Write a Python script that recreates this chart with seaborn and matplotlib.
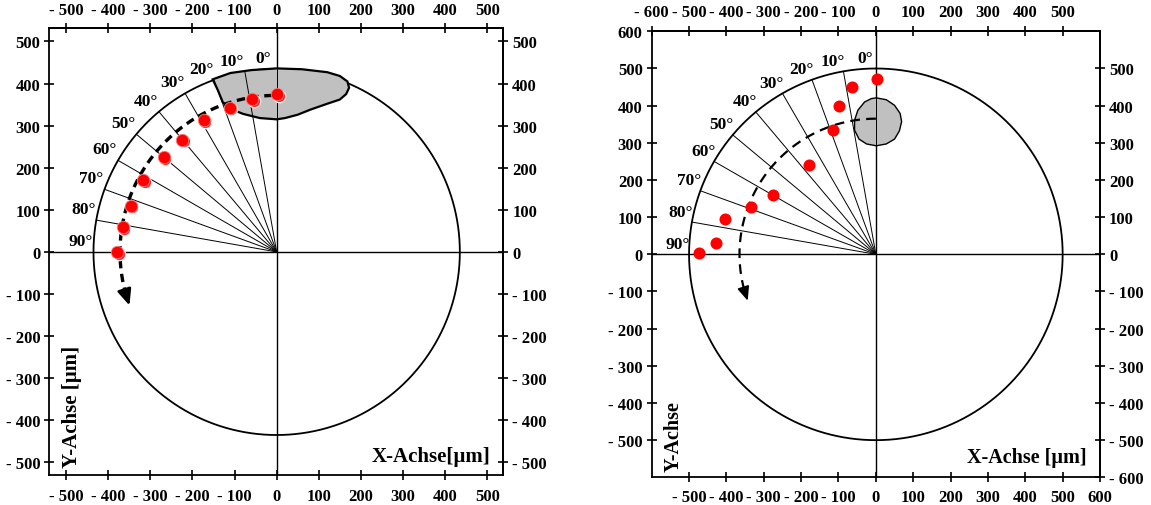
import numpy as np
import matplotlib
matplotlib.use("Agg")
import matplotlib.pyplot as plt
import matplotlib.transforms as mtransforms
from matplotlib.patches import Polygon
import seaborn as sns

# ---------------- data ----------------
angles_deg = [0, 10, 20, 30, 40, 50, 60, 70, 80, 90]
angle_labels = ["0°", "10°", "20°", "30°", "40°", "50°", "60°", "70°", "80°", "90°"]

# left chart
left_radius = 435
left_dots_x = [1, -58, -111, -173, -224, -268, -317, -347, -366, -379]
left_dots_y = [375, 363, 342, 313, 267, 225, 170, 110, 59, -1]
left_shape_x = [-152, -110, -60, 0, 60, 120, 150, 168, 172, 165, 150, 120, 80, 50, 20, 0,
                -40, -80, -110, -128, -140, -152]
left_shape_y = [410, 425, 432, 436, 434, 427, 418, 405, 390, 375, 362, 352, 338, 326, 318, 315,
                318, 328, 340, 356, 385, 410]
left_arc_radius = 372
left_arc_from, left_arc_to, left_arrow_tip = 1.5, 106, 110
left_xticks_bottom = [-500, -400, -300, -200, -100, 0, 100, 200, 300, 400, 500]
left_xticks_top = [-500, -400, -300, -200, -100, 0, 100, 200, 300, 400, 500]
left_yticks_left = [-500, -400, -300, -200, -100, 0, 100, 200, 300, 400, 500]
left_yticks_right = [-500, -400, -300, -200, -100, 0, 100, 200, 300, 400, 500]
left_xlim = (-540, 538)
left_ylim = (-530, 532)

# right chart
right_radius = 500
right_dots_x = [4, -63, -98, -114, -178, -276, -334, -404, -428, -474]
right_dots_y = [471, 450, 398, 334, 241, 159, 128, 96, 31, 3]
right_shape_x = [1, 28, 50, 65, 69, 63, 50, 28, 1, -25, -45, -57, -57, -48, -30, -12, 1]
right_shape_y = [421, 416, 401, 379, 357, 332, 310, 297, 292, 297, 310, 334, 361, 388, 410, 419, 421]
right_arc_radius = 365
right_arc_from, right_arc_to, right_arrow_tip = 0, 105, 110
right_xticks_bottom = [-500, -400, -300, -200, -100, 0, 100, 200, 300, 400, 500, 600]
right_xticks_top = [-600, -500, -400, -300, -200, -100, 0, 100, 200, 300, 400, 500]
right_yticks_left = [-500, -400, -300, -200, -100, 0, 100, 200, 300, 400, 500, 600]
right_yticks_right = [-600, -500, -400, -300, -200, -100, 0, 100, 200, 300, 400, 500]
right_xlim = (-600, 600)
right_ylim = (-600, 600)

# ---------------- style ----------------
sns.set_theme(style="white")
plt.rcParams["font.family"] = ["Liberation Serif", "DejaVu Serif"]
plt.rcParams["font.weight"] = "bold"
plt.rcParams["lines.scale_dashes"] = False
for key in ["text.color", "xtick.color", "ytick.color", "axes.labelcolor", "axes.edgecolor"]:
    plt.rcParams[key] = "black"

DPI = 100
fig = plt.figure(figsize=(11.51, 5.06), dpi=DPI)
ax_left = fig.add_axes([0.0428, 0.0593, 0.3944, 0.8834])
ax_right = fig.add_axes([0.5662, 0.0547, 0.3895, 0.8814])

TICK_FS = 12


def fmt(v):
    return f"- {abs(v)}" if v < 0 else f"{v}"


def polar_xy(r, theta_deg):
    t = np.radians(np.asarray(theta_deg, dtype=float))
    return -r * np.sin(t), r * np.cos(t)


def setup_axes(ax, xlim, ylim, xb, xt, yl, yr, pads):
    ax.set_xlim(*xlim)
    ax.set_ylim(*ylim)
    ax.set_facecolor("white")
    for s in ax.spines.values():
        s.set_visible(True)
        s.set_color("black")
        s.set_linewidth(1.3)
    ax.set_xticks(xb)
    ax.set_xticklabels([fmt(v) for v in xb], fontsize=TICK_FS, fontweight="bold", color="black")
    ax.set_yticks(yl)
    ax.set_yticklabels([fmt(v) for v in yl], fontsize=TICK_FS, fontweight="bold", color="black")
    ax.tick_params(axis="x", direction="inout", length=7, width=1.2, color="black",
                   bottom=True, top=False, pad=pads[0])
    ax.tick_params(axis="y", direction="inout", length=7, width=1.2, color="black",
                   left=True, right=False, pad=pads[1])
    sx = ax.secondary_xaxis("top")
    sx.set_xticks(xt)
    sx.set_xticklabels([fmt(v) for v in xt], fontsize=TICK_FS, fontweight="bold", color="black")
    sx.tick_params(direction="inout", length=7, width=1.2, color="black", pad=pads[2])
    sx.spines["top"].set_linewidth(1.3)
    sy = ax.secondary_yaxis("right")
    sy.set_yticks(yr)
    sy.set_yticklabels([fmt(v) for v in yr], fontsize=TICK_FS, fontweight="bold", color="black")
    sy.tick_params(direction="inout", length=7, width=1.2, color="black", pad=pads[3])
    sy.spines["right"].set_linewidth(1.3)
    ax.grid(False)
    ax.set_xlabel("")
    ax.set_ylabel("")


def draw_panel(ax, radius, dots_x, dots_y, shape_x, shape_y, arc_r, arc_from, arc_to, tip,
               shape_lw, arc_lw, dashes, head, label_off, dot_size, double_dot):
    # zero axes
    ax.axvline(0, color="black", lw=1.0, zorder=3)
    ax.axhline(0, color="black", lw=1.0, zorder=3)
    # circle
    th = np.linspace(0, 360, 721)
    cx, cy = polar_xy(radius, th)
    ax.plot(cx, cy, color="black", lw=1.3, zorder=2)
    # gray shape
    poly = Polygon(np.column_stack([shape_x, shape_y]), closed=True, facecolor="#c0c0c0",
                   edgecolor="black", lw=shape_lw, zorder=3)
    ax.add_patch(poly)
    # angle lines and labels
    for a, lab in zip(angles_deg, angle_labels):
        ex, ey = polar_xy(radius, a)
        ax.plot([0, ex], [0, ey], color="black", lw=0.7, zorder=4)
        ax.annotate(lab, xy=(ex, ey), xytext=label_off, textcoords="offset pixels",
                    ha="center", va="center", fontsize=12.5, fontweight="bold",
                    color="black", zorder=6)
    # dashed arc with arrow
    ta = np.linspace(arc_from, arc_to, 200)
    axx, ayy = polar_xy(arc_r, ta)
    ax.plot(axx, ayy, color="black", lw=arc_lw, dashes=dashes, zorder=5,
            solid_capstyle="butt", dash_capstyle="butt")
    tipx, tipy = polar_xy(arc_r, tip)
    basex, basey = polar_xy(arc_r, tip - 4)
    ax.annotate("", xy=(tipx, tipy), xytext=(basex, basey),
                arrowprops=dict(arrowstyle=f"-|>,head_length={head[0]},head_width={head[1]}",
                                color="black", lw=arc_lw * 0.8, shrinkA=0, shrinkB=0),
                zorder=6)
    # dots
    if double_dot:
        off = mtransforms.offset_copy(ax.transData, fig=fig, x=1.5, y=-1.5, units="dots")
        ax.scatter(dots_x, dots_y, s=dot_size, color="#ff2a2a", edgecolors="white",
                   linewidths=0.8, transform=off, zorder=7)
        sns.scatterplot(x=dots_x, y=dots_y, ax=ax, s=dot_size, color="#ff0000",
                        edgecolor="#ff8080", linewidth=0.6, zorder=8, legend=False)
    else:
        sns.scatterplot(x=dots_x, y=dots_y, ax=ax, s=dot_size, color="#ff0000",
                        edgecolor="#ff0000", linewidth=0, zorder=8, legend=False)


draw_panel(ax_left, left_radius, left_dots_x, left_dots_y, left_shape_x, left_shape_y,
           left_arc_radius, left_arc_from, left_arc_to, left_arrow_tip,
           shape_lw=1.6, arc_lw=2.4, dashes=(6, 4), head=(0.8, 0.35), label_off=(-13, 11),
           dot_size=80, double_dot=True)
draw_panel(ax_right, right_radius, right_dots_x, right_dots_y, right_shape_x, right_shape_y,
           right_arc_radius, right_arc_from, right_arc_to, right_arrow_tip,
           shape_lw=1.0, arc_lw=1.6, dashes=(7, 4.5), head=(0.7, 0.3), label_off=(-11, 10.5),
           dot_size=75, double_dot=False)

setup_axes(ax_left, left_xlim, left_ylim, left_xticks_bottom, left_xticks_top,
           left_yticks_left, left_yticks_right, pads=(6, 3, 4, 3))
setup_axes(ax_right, right_xlim, right_ylim, right_xticks_bottom, right_xticks_top,
           right_yticks_left, right_yticks_right, pads=(5, 3, 5, 3))

# axis titles inside the frames
ax_left.text(0.971, 0.0425, "X-Achse[µm]", transform=ax_left.transAxes, ha="right",
             va="center", fontsize=15, fontweight="bold", color="black", zorder=9)
ax_left.text(0.05, 0.018, "Y-Achse [µm]", transform=ax_left.transAxes, ha="center",
             va="bottom", rotation=90, fontsize=15, fontweight="bold", color="black", zorder=9)
ax_right.text(0.971, 0.0446, "X-Achse [µm]", transform=ax_right.transAxes, ha="right",
              va="center", fontsize=14.5, fontweight="bold", color="black", zorder=9)
ax_right.text(0.05, 0.014, "Y-Achse", transform=ax_right.transAxes, ha="center",
              va="bottom", rotation=90, fontsize=14.5, fontweight="bold", color="black", zorder=9)

fig.savefig("out.png", dpi=DPI, facecolor="white")
